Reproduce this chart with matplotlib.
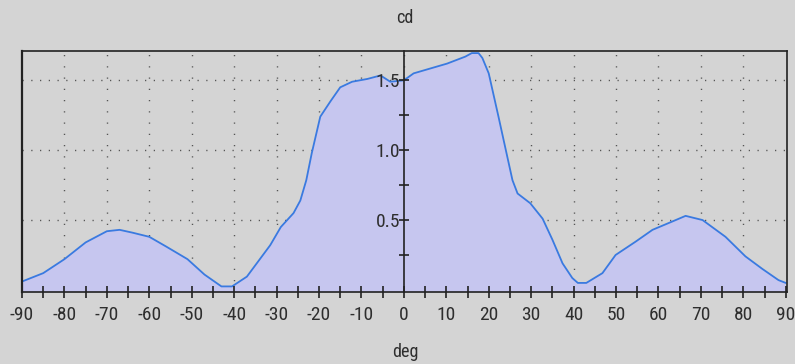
import matplotlib
matplotlib.use("Agg")
import matplotlib.pyplot as plt
from matplotlib import font_manager as fm
from matplotlib.lines import Line2D
from matplotlib.ticker import MultipleLocator

# Luminous intensity distribution (cd) versus angle (deg)
deg = [-90, -85, -80, -75, -70, -67, -64, -60, -56, -51, -47, -43, -40.5,
       -37, -31.5, -29, -26, -24.4, -23, -21.7, -19.7, -17.3, -15, -12.2,
       -8.6, -5.5, -3.2, 0, 2.3, 10.2, 14.5, 16, 17.6, 18.5, 20, 22.3, 24.4,
       25.6, 26.8, 29.8, 32.7, 35, 37.4, 39.7, 41, 43, 46.8, 49.9, 54.6,
       58.6, 63.3, 66.4, 70.4, 75.8, 80.5, 84.5, 88.3, 90]
cd = [0.06, 0.12, 0.22, 0.34, 0.42, 0.43, 0.41, 0.38, 0.31, 0.22, 0.11,
      0.025, 0.025, 0.095, 0.32, 0.45, 0.55, 0.64, 0.785, 0.98, 1.24, 1.35,
      1.45, 1.49, 1.51, 1.535, 1.49, 1.50, 1.55, 1.62, 1.67, 1.695, 1.695,
      1.66, 1.55, 1.24, 0.95, 0.785, 0.69, 0.62, 0.51, 0.36, 0.19, 0.085,
      0.05, 0.05, 0.12, 0.25, 0.345, 0.43, 0.49, 0.53, 0.50, 0.38, 0.24,
      0.15, 0.07, 0.05]

x_labels = [-90, -80, -70, -60, -50, -40, -30, -20, -10, 0,
            10, 20, 30, 40, 50, 60, 70, 80, 90]
y_labels = [0.5, 1.0, 1.5]

BG = "#d4d4d4"
TXT = "#2e2e2e"

# pick a narrow sans face for the labels
installed = {f.name for f in fm.fontManager.ttflist}
narrow = [n for n in ["Liberation Sans Narrow", "Arial Narrow",
                      "Roboto Condensed", "PT Sans Narrow", "Archivo Narrow",
                      "Open Sans Condensed", "DejaVu Sans Condensed",
                      "Encode Sans Condensed", "Fira Sans Condensed"]
          if n in installed]
FONT = narrow[:1] + ["DejaVu Sans"]

plt.rcParams["lines.scale_dashes"] = False
fig = plt.figure(figsize=(7.95, 3.64), dpi=100, facecolor=BG)
ax = fig.add_axes([22 / 795, 1 - 292 / 364, 765 / 795, 241 / 364])
ax.set_facecolor(BG)
ax.set_axisbelow(False)

ax.set_xlim(-90, 90.3)
ax.set_ylim(-0.015, 1.71)

# curve and its shaded area
ax.fill_between(deg, cd, -0.015, facecolor="#c6c6ef", edgecolor="none",
                zorder=1.6)
ax.plot(deg, cd, color="#3a7ae0", lw=1.3, zorder=2)

# dotted grid
for gx in range(-80, 90, 10):
    ax.axvline(gx, color="#555555", lw=1.0, ls=(0, (0.9, 7.2)), zorder=1.5)
for gy in y_labels:
    ax.axhline(gy, color="#555555", lw=1.0, ls=(0, (0.9, 5.4)), zorder=1.5)

# spines: vertical axis at 0, frame around the plot
ax.spines["left"].set_position(("data", 0))
for s in ax.spines.values():
    s.set_color("#222222")
    s.set_linewidth(1.2)
ax.add_line(Line2D([0, 0], [0, 1], transform=ax.transAxes, color="#222222",
                   lw=1.6, clip_on=False, zorder=3))

ax.set_xticks(x_labels, [str(v) for v in x_labels])
ax.set_xticks(range(-85, 90, 10), minor=True)
ax.set_yticks(y_labels, [f"{v:.1f}" for v in y_labels])
ax.set_yticks([0.25, 0.75, 1.25], minor=True)

ax.tick_params(axis="x", which="both", direction="inout", length=8,
               width=1.2, color="#222222", labelsize=14, labelcolor=TXT,
               pad=6)
ax.tick_params(axis="y", which="both", direction="inout", length=7,
               width=1.2, color="#222222", labelsize=14, labelcolor=TXT,
               pad=-1)
for lab in ax.get_xticklabels() + ax.get_yticklabels():
    lab.set_family(FONT)

fig.text(405 / 795, 1 - 18 / 364, "cd", ha="center", va="center",
         fontsize=13, color=TXT, family=FONT)
fig.text(405 / 795, 1 - 352 / 364, "deg", ha="center", va="center",
         fontsize=13, color=TXT, family=FONT)

fig.savefig("out.png", dpi=100, facecolor=BG)
